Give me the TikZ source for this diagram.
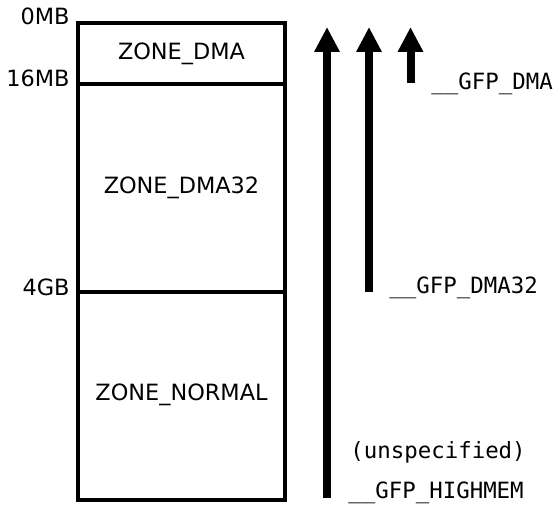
\documentclass[tikz,border=0pt]{standalone}
\usepackage{fontspec}
\setmainfont{DejaVu Sans}
\setmonofont{DejaVu Sans Mono}
\usetikzlibrary{arrows.meta}

\begin{document}
\begin{tikzpicture}[x=0.5pt,y=0.5pt,
	zone/.style={font=\fontsize{11.2}{13}\selectfont,anchor=base},
	addr/.style={font=\fontsize{11.2}{13}\selectfont,anchor=base east,inner sep=0pt},
	flag/.style={font=\fontsize{11.2}{13}\ttfamily,anchor=base west,inner sep=0pt},
	gfp/.style={line width=4pt,-{Triangle[width=12pt,length=12.5pt]}}]
			\useasboundingbox (0,0) rectangle (556,504);
			\draw[line width=2pt] (78,4.5) rectangle (285,480.5);
			\draw[line width=2pt] (78,419.5) -- (285,419.5);
			\draw[line width=2pt] (78,212) -- (285,212);
			\node[addr] (mb0) at (70,479) {0MB};
			\node[addr] (mb16) at (70,417) {16MB};
			\node[addr] (gb4) at (70,209) {4GB};
			\node[zone] (dma) at (181.5,444) {ZONE\_DMA};
			\node[zone] (dma32) at (181.5,310) {ZONE\_DMA32};
			\node[zone] (normal) at (181.5,104) {ZONE\_NORMAL};
			\coordinate (hm-s) at (327,6);
			\coordinate (hm-e) at (327,477);
			\coordinate (d32-s) at (369,212);
			\coordinate (d32-e) at (369,477);
			\coordinate (d-s) at (410.5,421);
			\coordinate (d-e) at (410.5,477);
			\draw[gfp] (hm-s) -- (hm-e);
			\draw[gfp] (d32-s) -- (d32-e);
			\draw[gfp] (d-s) -- (d-e);
			\node[flag] (fdma) at (431,414) {\_\_GFP\_DMA};
			\node[flag] (fdma32) at (389,211) {\_\_GFP\_DMA32};
			\node[flag] (unspec) at (350,46) {(unspecified)};
			\node[flag] (fhigh) at (348,6) {\_\_GFP\_HIGHMEM};
		\end{tikzpicture}
\end{document}
